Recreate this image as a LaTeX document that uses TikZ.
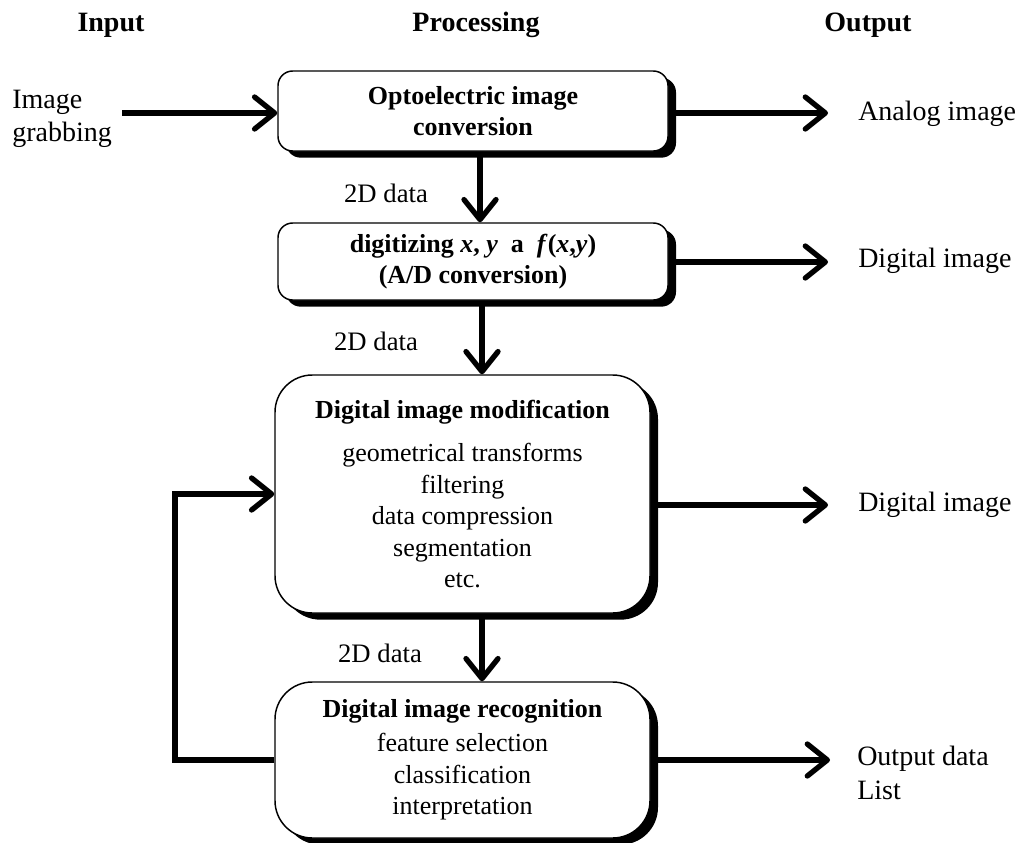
\documentclass[tikz,border=0pt]{standalone}
\usepackage{fontspec}
\setmainfont{Liberation Serif}
\usetikzlibrary{arrows.meta,shadows}
\begin{document}
\begin{tikzpicture}[x=0.75pt,y=-0.75pt,
  box/.style={draw=black,line width=1.1pt,fill=white,align=center,inner sep=0pt,
    drop shadow={shadow xshift=6pt,shadow yshift=-5pt,fill=black,opacity=1}},
  smallbox/.style={box,rounded corners=11pt},
  bigbox/.style={box,rounded corners=28pt},
  arr/.style={line width=4pt,-{Straight Barb[length=15pt,width=24pt,line cap=round,line join=round]}},
  hdr/.style={font=\fontsize{21}{25}\selectfont\bfseries,inner sep=0pt},
  txt/.style={font=\fontsize{21}{25}\selectfont,inner sep=0pt,align=left},
  lbl/.style={font=\fontsize{20}{24}\selectfont,inner sep=0pt},
  btxt/.style={font=\fontsize{19.5}{23}\selectfont},
  bbtxt/.style={font=\fontsize{19.5}{23.6}\selectfont}
]
\useasboundingbox (0,0) rectangle (1026,843);
% headers
\node[hdr] (hin) at (111,25) {Input};
\node[hdr] (hproc) at (476,25) {Processing};
\node[hdr] (hout) at (868,25) {Output};
% boxes
\node[smallbox,btxt,minimum width=292.5pt,minimum height=60pt] (b1) at (473,111)
  {\bfseries Optoelectric image\\\bfseries conversion};
\node[smallbox,btxt,minimum width=292.5pt,minimum height=57.75pt] (b2) at (473,261.5)
  {\bfseries digitizing \textit{x}, \textit{y}\ \ a\ \ \textit{f}(\textit{x},\textit{y})\\\bfseries (A/D conversion)};
\node[bigbox,bbtxt,minimum width=281.25pt,minimum height=178.5pt] (b3) at (462.5,494)
  {\bfseries Digital image modification\\[9pt]
   geometrical transforms\\ filtering\\ data compression\\ segmentation\\ etc.};
\node[bigbox,bbtxt,minimum width=281.25pt,minimum height=117pt] (b4) at (462.5,760)
  {\bfseries Digital image recognition\\[2pt] feature selection\\ classification\\ interpretation};
% input
\node[txt,anchor=west] (inp) at (12,119) {Image\\grabbing};
\coordinate (in1) at (122,113);
\draw[arr] (in1) -- (in1 -| b1.west);
% outputs
\node[txt,anchor=west] (o1) at (858,114) {Analog image};
\node[txt,anchor=west] (o2) at (858,261) {Digital image};
\node[txt,anchor=west] (o3) at (858,505) {Digital image};
\node[txt,anchor=west] (o4) at (857,773) {Output data\\List};
\coordinate (e1) at (828,113);
\coordinate (e2) at (828,262);
\coordinate (e3) at (828,505);
\coordinate (e4) at (830,760);
\draw[arr] (e1 -| b1.east) -- (e1);
\draw[arr] (e2 -| b2.east) -- (e2);
\draw[arr] (e3 -| b3.east) -- (e3);
\draw[arr] (e4 -| b4.east) -- (e4);
% vertical flow
\coordinate (v1) at (480,0);
\coordinate (v2) at (482,0);
\coordinate (v3) at (482,0);
\draw[arr] (v1 |- b1.south) -- (v1 |- b2.north);
\draw[arr] (v2 |- b2.south) -- (v2 |- b3.north);
\draw[arr] (v3 |- b3.south) -- (v3 |- b4.north);
\node[lbl] (l1) at (386,193) {2D data};
\node[lbl] (l2) at (376,341) {2D data};
\node[lbl] (l3) at (380,653) {2D data};
% feedback
\coordinate (fb) at (175,494);
\draw[arr] (b4.west) -| (fb) -- (b3.west);
\end{tikzpicture}
\end{document}
